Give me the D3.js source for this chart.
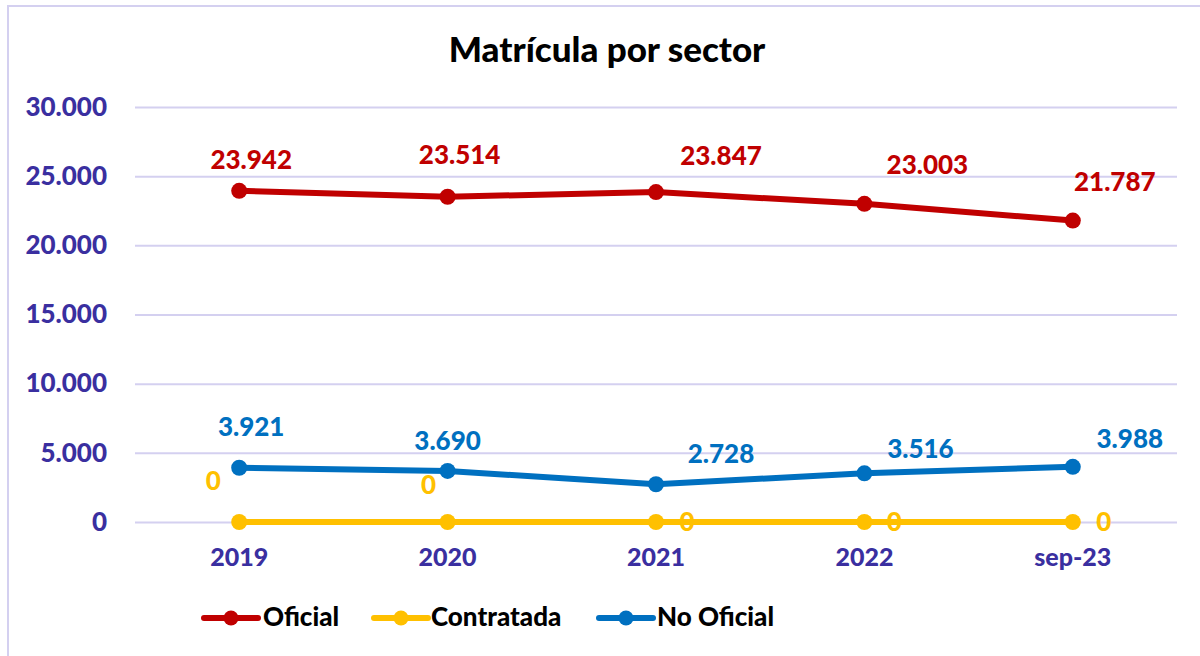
<!DOCTYPE html>
<html>
<head>
<meta charset="utf-8">
<script src="https://cdn.jsdelivr.net/npm/d3@7"></script>
<style>
  body { margin: 0; background: #fff; }
  svg { font-family: Lato, "Open Sans", sans-serif; font-weight: 900; }
</style>
</head>
<body>
<div id="chart"></div>
<script>
var categories = ["2019", "2020", "2021", "2022", "sep-23"];
var oficial = [23942, 23514, 23847, 23003, 21787];
var contratada = [0, 0, 0, 0, 0];
var noOficial = [3921, 3690, 2728, 3516, 3988];
var yTicks = [0, 5000, 10000, 15000, 20000, 25000, 30000];

// label offsets (layout only)
var offOficial = [[12, -29], [12, -39], [65, -34], [63, -36], [42, -36]];
var offContratada = [[-26, -39], [-19, -35], [31, 2], [30, 2], [31, 2]];
var offNoOficial = [[12, -38], [0, -28], [65, -28], [56, -22], [57, -26]];

var W = 1200, H = 656;
var margin = {top: 107, right: 23, bottom: 134, left: 135},
    width = W - margin.left - margin.right,
    height = H - margin.top - margin.bottom;

var svg = d3.select("#chart").append("svg")
    .attr("width", W).attr("height", H);

svg.append("rect")
    .attr("x", 8).attr("y", 6)
    .attr("width", W + 10).attr("height", H + 10)
    .attr("fill", "none").attr("stroke", "#D4D0F0").attr("stroke-width", 2);

svg.append("text")
    .attr("x", 607).attr("y", 62)
    .attr("text-anchor", "middle")
    .attr("font-size", 35)
    .attr("fill", "#000")
    .text("Matrícula por sector");

var g = svg.append("g")
    .attr("transform", "translate(" + margin.left + "," + margin.top + ")");

var x = d3.scaleBand().domain(categories).range([0, width]);
var y = d3.scaleLinear().domain([0, 30000]).range([height, 0]);
var fmt = function(v) { return d3.format(",")(v).replace(/,/g, "."); };

var yAxis = g.append("g")
    .call(d3.axisLeft(y).tickValues(yTicks).tickSize(-width).tickFormat(fmt).tickPadding(28));
yAxis.select(".domain").remove();
yAxis.selectAll("line").attr("stroke", "#D4D0F0").attr("stroke-width", 2);
yAxis.selectAll("text").attr("fill", "#3A2FA0").attr("font-size", 26)
    .attr("font-family", "Lato, sans-serif").attr("font-weight", 900);

var xAxis = g.append("g")
    .attr("transform", "translate(0," + height + ")")
    .call(d3.axisBottom(x).tickSize(0).tickPadding(26));
xAxis.select(".domain").remove();
xAxis.selectAll("text").attr("fill", "#3A2FA0").attr("font-size", 25)
    .attr("font-family", "Lato, sans-serif").attr("font-weight", 900);

var cx = function(i) { return x(categories[i]) + x.bandwidth() / 2; };

var series = [
  {name: "Oficial", values: oficial, color: "#C00000", off: offOficial},
  {name: "Contratada", values: contratada, color: "#FFC000", off: offContratada},
  {name: "No Oficial", values: noOficial, color: "#0070C0", off: offNoOficial}
];

var line = d3.line()
    .x(function(d, i) { return cx(i); })
    .y(function(d) { return y(d); });

series.forEach(function(s) {
  g.append("path")
    .datum(s.values)
    .attr("d", line)
    .attr("fill", "none")
    .attr("stroke", s.color)
    .attr("stroke-width", 6)
    .attr("stroke-linejoin", "round");
  g.selectAll(null)
    .data(s.values)
    .enter().append("circle")
    .attr("cx", function(d, i) { return cx(i); })
    .attr("cy", function(d) { return y(d); })
    .attr("r", 8)
    .attr("fill", s.color);
  g.selectAll(null)
    .data(s.values)
    .enter().append("text")
    .attr("x", function(d, i) { return cx(i) + s.off[i][0]; })
    .attr("y", function(d, i) { return y(d) + s.off[i][1]; })
    .attr("text-anchor", "middle")
    .attr("dominant-baseline", "middle")
    .attr("font-size", 26)
    .attr("fill", s.color)
    .text(function(d) { return fmt(d); });
});

// legend
var legendX = [202, 372, 597];
var legendTextX = [263, 431, 657];
var leg = svg.append("g").attr("transform", "translate(0,618)");
series.forEach(function(s, i) {
  var lg = leg.append("g");
  lg.append("line").attr("x1", legendX[i] + 2).attr("x2", legendX[i] + 56).attr("y1", 0).attr("y2", 0)
    .attr("stroke", s.color).attr("stroke-width", 6).attr("stroke-linecap", "round");
  lg.append("circle").attr("cx", legendX[i] + 29).attr("cy", 0).attr("r", 7.5).attr("fill", s.color);
  lg.append("text").attr("x", legendTextX[i]).attr("y", 1)
    .attr("dominant-baseline", "middle")
    .attr("font-size", 26).attr("fill", "#000")
    .text(s.name);
});
</script>
</body>
</html>
